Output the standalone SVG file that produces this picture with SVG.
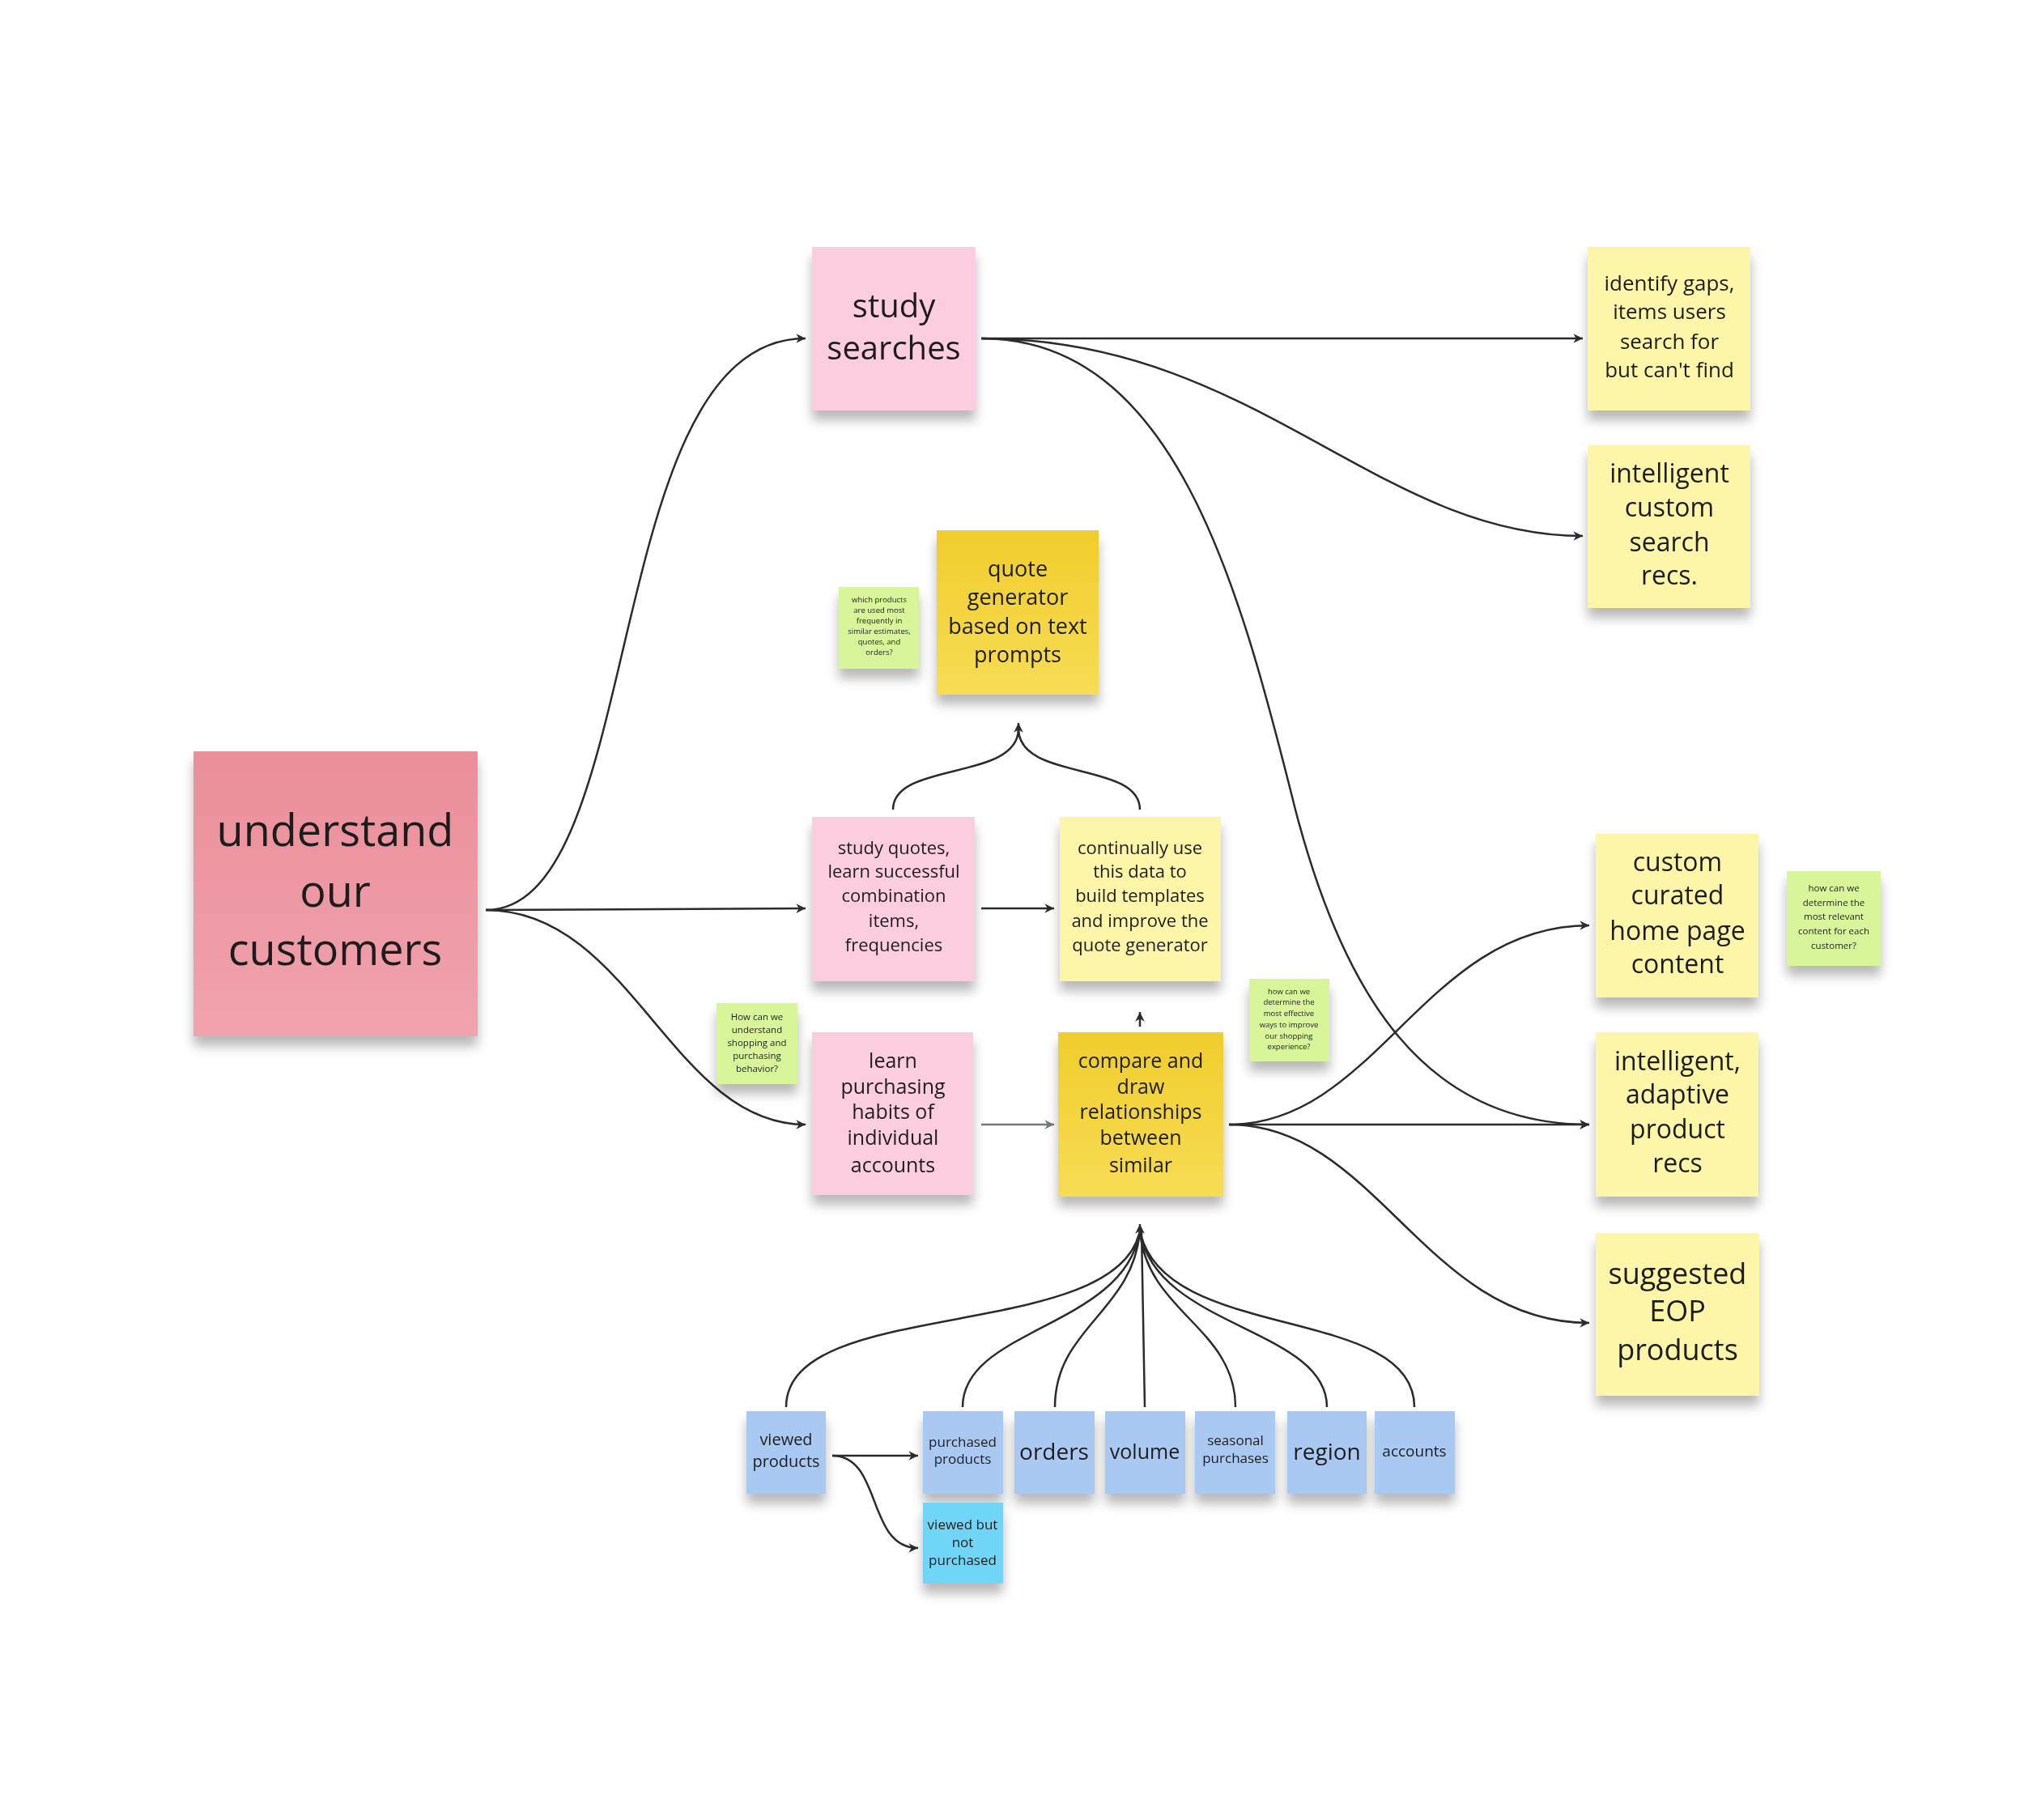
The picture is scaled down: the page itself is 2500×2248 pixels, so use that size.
<svg xmlns="http://www.w3.org/2000/svg" width="2500" height="2248" viewBox="0 0 2500 2248">
<defs>
<style>
text{font-family:"Open Sans","Noto Sans","Liberation Sans",sans-serif;fill:#1e1e1e;text-anchor:middle}
.c{fill:none;stroke:#2b2b2b;stroke-width:2.5}
.g{fill:none;stroke:#777;stroke-width:2.5}
.pk{fill:#fccde0}.ye{fill:#fdf6a8}.dy{fill:#f4d23c}.gr{fill:#d8f59a}.bl{fill:#a9c9f2}.cy{fill:#6fd5f7}
</style>
<marker id="a" viewBox="0 0 12 12" refX="11" refY="6" markerWidth="14" markerHeight="14" markerUnits="userSpaceOnUse" orient="auto"><path d="M1,1 L11,6 L1,11 L4,6 Z" fill="#2b2b2b"/></marker>
<marker id="ag" viewBox="0 0 12 12" refX="11" refY="6" markerWidth="14" markerHeight="14" markerUnits="userSpaceOnUse" orient="auto"><path d="M1,1 L11,6 L1,11 L4,6 Z" fill="#777"/></marker>
<filter id="sh" x="-20%" y="-20%" width="140%" height="150%"><feDropShadow dx="0" dy="12" stdDeviation="7" flood-color="#000" flood-opacity="0.28"/></filter>
<linearGradient id="rd" x1="0" y1="0" x2="0" y2="1"><stop offset="0" stop-color="#ea8e9a"/><stop offset="1" stop-color="#f0a3ae"/></linearGradient>
<linearGradient id="yd" x1="0" y1="0" x2="0" y2="1"><stop offset="0" stop-color="#f0cd2c"/><stop offset="1" stop-color="#f7dc55"/></linearGradient>
</defs>
<rect width="2500" height="2248" fill="#fff"/>
<g id="connectors">
<path class="c" marker-end="url(#a)" d="M600,1124 C800,1124 740,418 995,418"/>
<path class="c" marker-end="url(#a)" d="M600,1124 L995,1122"/>
<path class="c" marker-end="url(#a)" d="M600,1124 C780,1124 830,1389 995,1389"/>
<path class="c" marker-end="url(#a)" d="M1212,418 L1955,418"/>
<path class="c" marker-end="url(#a)" d="M1212,418 C1550,418 1700,662 1955,662"/>
<path class="c" marker-end="url(#a)" d="M1212,418 C1450,418 1530,720 1600,1000 C1660,1230 1760,1389 1963,1389"/>
<path class="c" marker-end="url(#a)" d="M1212,1122 L1302,1122"/>
<path class="g" marker-end="url(#ag)" d="M1212,1389 L1302,1389"/>
<path class="c" d="M1103,1000 C1103,940 1258,965 1258,900 M1408,1000 C1408,940 1258,965 1258,900"/>
<path class="c" marker-end="url(#a)" d="M1258,905 L1258,893"/>
<path class="c" marker-end="url(#a)" d="M1408,1268 L1408,1250"/>
<path class="c" marker-end="url(#a)" d="M1518,1389 C1700,1389 1760,1143 1963,1143"/>
<path class="c" marker-end="url(#a)" d="M1518,1389 L1963,1389"/>
<path class="c" marker-end="url(#a)" d="M1518,1389 C1700,1389 1760,1634 1963,1634"/>
<path class="c" d="M971,1738 C971,1600 1380,1660 1408,1520 M1189,1738 C1189,1640 1390,1640 1408,1520 M1303,1738 C1303,1640 1400,1620 1408,1520 M1414,1738 L1410,1520 M1526,1738 C1526,1640 1416,1620 1408,1520 M1639,1738 C1639,1640 1426,1640 1408,1520 M1747,1738 C1747,1610 1436,1660 1408,1520"/>
<path class="c" marker-end="url(#a)" d="M1408,1525 L1408,1512"/>
<path class="c" marker-end="url(#a)" d="M1028,1798 L1134,1798"/>
<path class="c" marker-end="url(#a)" d="M1028,1798 C1090,1798 1070,1912 1134,1912"/>
</g>
<g id="n-understand" filter="url(#sh)"><rect x="239" y="928" width="351" height="352" fill="url(#rd)"/><text font-size="54" x="414" y="1045">understand</text><text font-size="54" x="414" y="1120">our</text><text font-size="54" x="414" y="1192">customers</text></g>
<g id="n-study-searches" filter="url(#sh)"><rect class="pk" x="1003" y="305" width="202" height="202"/><text font-size="40" x="1104" y="392">study</text><text font-size="40" x="1104" y="444">searches</text></g>
<g id="n-gaps" filter="url(#sh)"><rect class="ye" x="1961" y="305" width="201" height="202"/><text font-size="26" x="2062" y="359">identify gaps,</text><text font-size="26" x="2062" y="394">items users</text><text font-size="26" x="2062" y="431">search for</text><text font-size="26" x="2062" y="466">but can't find</text></g>
<g id="n-search-recs" filter="url(#sh)"><rect class="ye" x="1961" y="550" width="201" height="201"/><text font-size="32" x="2062" y="596">intelligent</text><text font-size="32" x="2062" y="638">custom</text><text font-size="32" x="2062" y="681">search</text><text font-size="32" x="2062" y="722">recs.</text></g>
<g id="n-quote-gen" filter="url(#sh)"><rect fill="url(#yd)" x="1157" y="655" width="200" height="203"/><text font-size="27" x="1257" y="712">quote</text><text font-size="27" x="1257" y="747">generator</text><text font-size="27" x="1257" y="783">based on text</text><text font-size="27" x="1257" y="818">prompts</text></g>
<g id="n-note1" filter="url(#sh)"><rect class="gr" x="1036" y="725" width="99" height="101"/><g font-size="9.5"><text x="1086" y="744">which products</text><text x="1086" y="757">are used most</text><text x="1086" y="770">frequently in</text><text x="1086" y="783">similar estimates,</text><text x="1086" y="796">quotes, and</text><text x="1086" y="809">orders?</text></g></g>
<g id="n-study-quotes" filter="url(#sh)"><rect class="pk" x="1003" y="1009" width="201" height="203"/><g font-size="22"><text x="1104" y="1055">study quotes,</text><text x="1104" y="1084">learn successful</text><text x="1104" y="1114">combination</text><text x="1104" y="1145">items,</text><text x="1104" y="1175">frequencies</text></g></g>
<g id="n-continually" filter="url(#sh)"><rect class="ye" x="1309" y="1009" width="199" height="203"/><g font-size="22"><text x="1408" y="1055">continually use</text><text x="1408" y="1084">this data to</text><text x="1408" y="1114">build templates</text><text x="1408" y="1145">and improve the</text><text x="1408" y="1175">quote generator</text></g></g>
<g id="n-learn" filter="url(#sh)"><rect class="pk" x="1003" y="1275" width="199" height="201"/><g font-size="25"><text x="1103" y="1319">learn</text><text x="1103" y="1351">purchasing</text><text x="1103" y="1382">habits of</text><text x="1103" y="1414">individual</text><text x="1103" y="1448">accounts</text></g></g>
<g id="n-compare" filter="url(#sh)"><rect fill="url(#yd)" x="1307" y="1275" width="204" height="203"/><g font-size="25"><text x="1409" y="1319">compare and</text><text x="1409" y="1351">draw</text><text x="1409" y="1382">relationships</text><text x="1409" y="1414">between</text><text x="1409" y="1448">similar</text></g></g>
<g id="n-note2" filter="url(#sh)"><rect class="gr" x="885" y="1239" width="100" height="100"/><g font-size="11.5"><text x="935" y="1260">How can we</text><text x="935" y="1276">understand</text><text x="935" y="1292">shopping and</text><text x="935" y="1308">purchasing</text><text x="935" y="1324">behavior?</text></g></g>
<g id="n-note3" filter="url(#sh)"><rect class="gr" x="1543" y="1209" width="99" height="102"/><g font-size="9.5"><text x="1592" y="1228">how can we</text><text x="1592" y="1241">determine the</text><text x="1592" y="1255">most effective</text><text x="1592" y="1269">ways to improve</text><text x="1592" y="1283">our shopping</text><text x="1592" y="1296">experience?</text></g></g>
<g id="n-curated" filter="url(#sh)"><rect class="ye" x="1971" y="1030" width="201" height="202"/><g font-size="32"><text x="2072" y="1076">custom</text><text x="2072" y="1117">curated</text><text x="2072" y="1161">home page</text><text x="2072" y="1202">content</text></g></g>
<g id="n-note4" filter="url(#sh)"><rect class="gr" x="2207" y="1076" width="116" height="117"/><g font-size="11.5"><text x="2265" y="1101">how can we</text><text x="2265" y="1119">determine the</text><text x="2265" y="1136">most relevant</text><text x="2265" y="1154">content for each</text><text x="2265" y="1172">customer?</text></g></g>
<g id="n-adaptive" filter="url(#sh)"><rect class="ye" x="1971" y="1275" width="201" height="203"/><g font-size="32"><text x="2072" y="1322">intelligent,</text><text x="2072" y="1363">adaptive</text><text x="2072" y="1406">product</text><text x="2072" y="1448">recs</text></g></g>
<g id="n-eop" filter="url(#sh)"><rect class="ye" x="1971" y="1523" width="202" height="201"/><g font-size="36"><text x="2072" y="1586">suggested</text><text x="2072" y="1632">EOP</text><text x="2072" y="1680">products</text></g></g>
<g id="n-viewed" filter="url(#sh)"><rect class="bl" x="922" y="1743" width="98" height="102"/><text font-size="20" x="971" y="1785">viewed</text><text font-size="20" x="971" y="1812">products</text></g>
<g id="n-purchased" filter="url(#sh)"><rect class="bl" x="1140" y="1743" width="99" height="102"/><text font-size="17" x="1189" y="1787">purchased</text><text font-size="17" x="1189" y="1808">products</text></g>
<g id="n-orders" filter="url(#sh)"><rect class="bl" x="1253" y="1743" width="99" height="102"/><text font-size="28" x="1302" y="1803">orders</text></g>
<g id="n-volume" filter="url(#sh)"><rect class="bl" x="1365" y="1743" width="99" height="102"/><text font-size="25" x="1414" y="1802">volume</text></g>
<g id="n-seasonal" filter="url(#sh)"><rect class="bl" x="1476" y="1743" width="99" height="102"/><text font-size="17" x="1526" y="1785">seasonal</text><text font-size="17" x="1526" y="1807">purchases</text></g>
<g id="n-region" filter="url(#sh)"><rect class="bl" x="1590" y="1743" width="98" height="102"/><text font-size="28" x="1639" y="1803">region</text></g>
<g id="n-accounts" filter="url(#sh)"><rect class="bl" x="1698" y="1743" width="99" height="102"/><text font-size="19" x="1747" y="1799">accounts</text></g>
<g id="n-viewed-not" filter="url(#sh)"><rect class="cy" x="1140" y="1856" width="99" height="100"/><g font-size="17"><text x="1189" y="1889">viewed but</text><text x="1189" y="1911">not</text><text x="1189" y="1933">purchased</text></g></g>
</svg>
